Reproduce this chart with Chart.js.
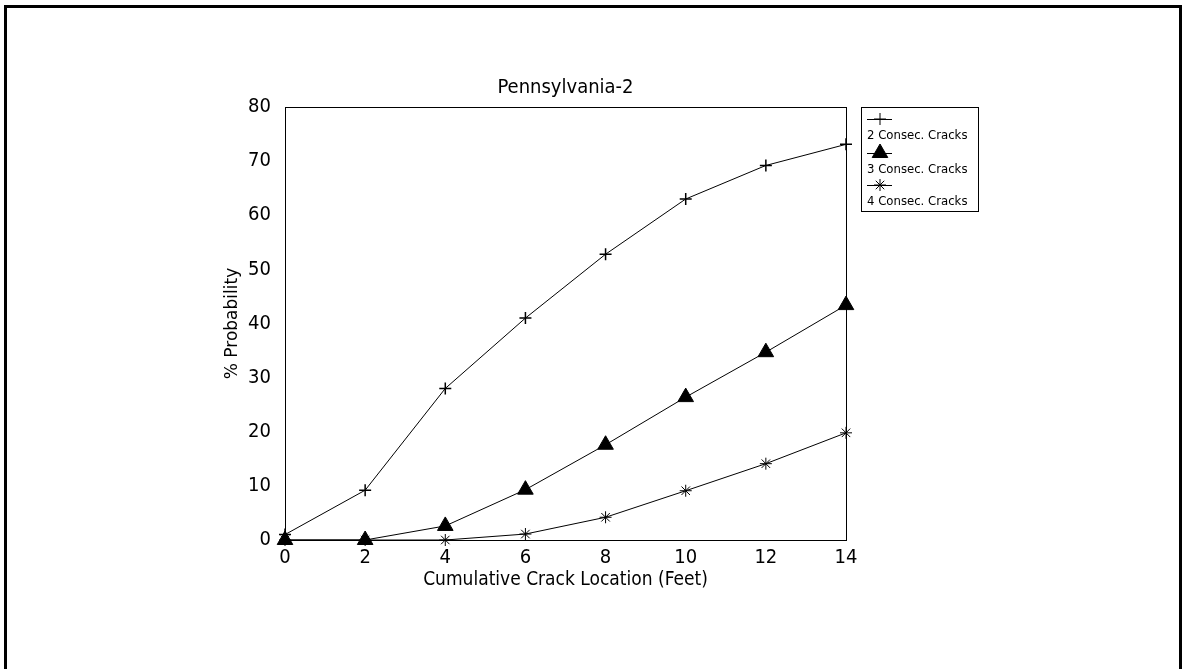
<!DOCTYPE html>
<html>
<head>
<meta charset="utf-8">
<script src="https://cdn.jsdelivr.net/npm/chart.js@4/dist/chart.umd.min.js"></script>
<style>
    body { margin: 0; background: #fff; }
    #wrap { position: relative; width: 1183px; height: 669px; }
    #frame {
        position: absolute; left: 4px; top: 5px; width: 1172px; height: 670px;
        border: 3px solid #000; border-bottom: none;
    }
    canvas { position: absolute; left: 0; top: 0; }
</style>
</head>
<body>
<div id="wrap">
    <div id="frame"></div>
    <canvas id="chart" width="1183" height="669"></canvas>
</div>
<script>
const crackLocation = [0, 2, 4, 6, 8, 10, 12, 14];
const twoConsec = [1, 9.2, 28, 41, 52.8, 63, 69.2, 73.1];
const threeConsec = [0, 0, 2.6, 9.3, 17.6, 26.4, 34.7, 43.4];
const fourConsec = [0, 0, 0, 1.1, 4.2, 9.1, 14.1, 19.8];
const seriesNames = ['2 Consec. Cracks', '3 Consec. Cracks', '4 Consec. Cracks'];

const FONT = "'Liberation Sans Narrow', 'DejaVu Sans Condensed', 'Liberation Sans', Arial, sans-serif";

function toPoints(ys) {
    return crackLocation.map((x, i) => ({ x: x, y: ys[i] }));
}

// box around the plot + legend in the style of the old plot
const boxPlugin = {
    id: 'boxPlugin',
    afterDraw(chart) {
        const ctx = chart.ctx;
        const a = chart.chartArea;
        ctx.save();
        ctx.strokeStyle = '#000';
        ctx.lineWidth = 1;
        ctx.strokeRect(a.left + 0.5, a.top + 0.5, a.right - a.left, a.bottom - a.top);

        // legend
        const lx = 861, ly = 107, lw = 117, lh = 104;
        ctx.strokeRect(lx + 0.5, ly + 0.5, lw, lh);
        const rows = [119, 153, 185];
        chart.data.datasets.forEach((ds, i) => {
            const y = rows[i];
            ctx.beginPath();
            ctx.moveTo(867, y + 0.5);
            ctx.lineTo(892, y + 0.5);
            ctx.stroke();
            Chart.helpers.drawPoint(ctx, {
                pointStyle: ds.pointStyle,
                radius: ds.pointRadius,
                borderWidth: 1,
                rotation: 0
            }, 880, y);
            ctx.fillStyle = '#000';
            ctx.font = '13px ' + FONT;
            ctx.textBaseline = 'middle';
            ctx.fillText(seriesNames[i], 867, y + 17);
        });
        ctx.restore();
    }
};

const ctx = document.getElementById('chart').getContext('2d');
new Chart(ctx, {
    type: 'line',
    data: {
        datasets: [{
            label: seriesNames[0],
            data: toPoints(twoConsec),
            pointStyle: 'cross',
            pointRadius: 6,
            borderColor: '#000',
            backgroundColor: '#000',
            borderWidth: 1,
            pointBorderWidth: 1.5
        }, {
            label: seriesNames[1],
            data: toPoints(threeConsec),
            pointStyle: 'triangle',
            pointRadius: 9,
            borderColor: '#000',
            backgroundColor: '#000',
            borderWidth: 1,
            pointBorderWidth: 1
        }, {
            label: seriesNames[2],
            data: toPoints(fourConsec),
            pointStyle: 'star',
            pointRadius: 6,
            borderColor: '#000',
            backgroundColor: '#000',
            borderWidth: 1,
            pointBorderWidth: 1
        }]
    },
    options: {
        responsive: false,
        animation: false,
        clip: false,
        layout: { padding: { left: 222, right: 337, top: 76, bottom: 78 } },
        plugins: {
            legend: { display: false },
            tooltip: { enabled: false },
            title: {
                display: true,
                text: 'Pennsylvania-2',
                fullSize: false,
                color: '#000',
                font: { family: FONT, size: 20, weight: 'normal' },
                padding: { top: 0, bottom: 7 }
            }
        },
        scales: {
            x: {
                type: 'linear',
                min: 0, max: 14,
                afterFit(scale) { scale.height = 51; },
                grid: { display: false, drawTicks: false },
                border: { display: true, color: '#000', width: 1 },
                ticks: {
                    stepSize: 2, color: '#000', padding: 6,
                    font: { family: FONT, size: 20 }
                },
                title: {
                    display: true, text: 'Cumulative Crack Location (Feet)',
                    color: '#000', padding: { top: 0, bottom: 0 },
                    font: { family: FONT, size: 19 }
                }
            },
            y: {
                min: 0, max: 80,
                afterFit(scale) { scale.width = 63; },
                grid: { display: false, drawTicks: false },
                border: { display: true, color: '#000', width: 1 },
                ticks: {
                    stepSize: 10, color: '#000', padding: 14,
                    font: { family: FONT, size: 20 }
                },
                title: {
                    display: true, text: '% Probability',
                    color: '#000', padding: { top: 0, bottom: 0 },
                    font: { family: "'DejaVu Sans', sans-serif", size: 17 }
                }
            }
        }
    },
    plugins: [boxPlugin]
});
</script>
</body>
</html>
